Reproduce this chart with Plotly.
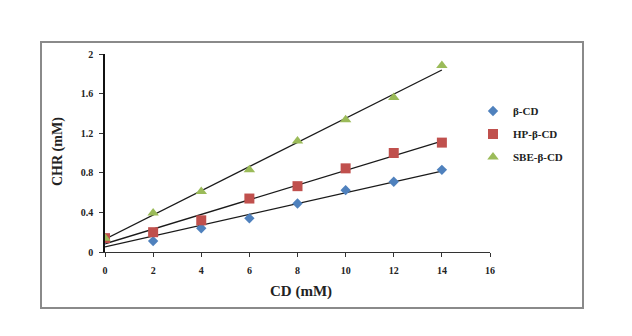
import numpy as np
import plotly.graph_objects as go

cd = [0, 2, 4, 6, 8, 10, 12, 14]
beta_cd = [0.13, 0.11, 0.24, 0.34, 0.49, 0.625, 0.71, 0.83]
hp_beta_cd = [0.14, 0.20, 0.32, 0.54, 0.665, 0.845, 1.00, 1.105]
sbe_beta_cd = [0.14, 0.395, 0.61, 0.83, 1.12, 1.335, 1.56, 1.885]
names = ["β-CD", "HP-β-CD", "SBE-β-CD"]
x_ticks = [0, 2, 4, 6, 8, 10, 12, 14, 16]
y_ticks = [0, 0.4, 0.8, 1.2, 1.6, 2]
y_tick_labels = ["0", "0.4", "0.8", "1.2", "1.6", "2"]

FONT = "Liberation Serif, Times New Roman, serif"
colors = ["#4F81BD", "#C0504D", "#9BBB59"]
symbols = ["diamond", "square", "triangle-up"]
sizes = [8, 10, 10]

fig = go.Figure()
series = [beta_cd, hp_beta_cd, sbe_beta_cd]
for ys in series:
    k, b = np.polyfit(cd, ys, 1)
    xs = np.array([cd[0], cd[-1]])
    fig.add_trace(go.Scatter(x=xs, y=k * xs + b, mode="lines",
                             line=dict(color="#1a1a1a", width=1.3),
                             showlegend=False, hoverinfo="skip"))
for i, ys in enumerate(series):
    fig.add_trace(go.Scatter(x=cd, y=ys, mode="markers", name=names[i],
                             legendgroup=names[i],
                             marker=dict(symbol=symbols[i], size=sizes[i], color=colors[i])))

fig.update_layout(
    width=632, height=336,
    margin=dict(l=105, r=142, t=54, b=84),
    paper_bgcolor="white", plot_bgcolor="white",
    font=dict(family=FONT, size=10, color="#222222", weight="bold"),
    showlegend=True,
    legend=dict(x=(473 - 105) / 385, y=0.785, xanchor="left", yanchor="top",
                font=dict(family=FONT, size=11, color="#222222", weight="bold"),
                tracegroupgap=4, itemwidth=30, bgcolor="rgba(0,0,0,0)"),
    xaxis=dict(range=[0, 16], tickvals=x_ticks, showgrid=False, zeroline=False,
               showline=True, linecolor="#333333", linewidth=1.2,
               ticks="outside", ticklen=4, tickcolor="#333333",
               ticklabelstandoff=5,
               tickfont=dict(family=FONT, size=10, weight="bold")),
    yaxis=dict(range=[0, 2], tickvals=y_ticks, ticktext=y_tick_labels, showgrid=False,
               zeroline=False, showline=True, linecolor="#111111", linewidth=1.5,
               ticks="outside", ticklen=4, tickcolor="#333333",
               ticklabelstandoff=4,
               tickfont=dict(family=FONT, size=10, weight="bold")),
    shapes=[dict(type="rect", xref="paper", yref="paper",
                 x0=(41 - 105) / 385, x1=(583 - 105) / 385,
                 y0=-(308 - 252) / 198, y1=1 + (54 - 42) / 198,
                 line=dict(color="#8a8a8a", width=2), fillcolor="rgba(0,0,0,0)")],
    annotations=[
        dict(text="CD (mM)", xref="paper", yref="paper", x=(301 - 105) / 385,
             y=-(291 - 252) / 198, xanchor="center", yanchor="middle", showarrow=False,
             font=dict(family=FONT, size=15, color="#222222", weight="bold")),
        dict(text="CHR (mM)", xref="paper", yref="paper", x=-(105 - 58) / 385,
             y=(252 - 152) / 198, xanchor="center", yanchor="middle", showarrow=False,
             textangle=-90,
             font=dict(family=FONT, size=14, color="#222222", weight="bold")),
    ],
)

fig.write_html("out.html")
